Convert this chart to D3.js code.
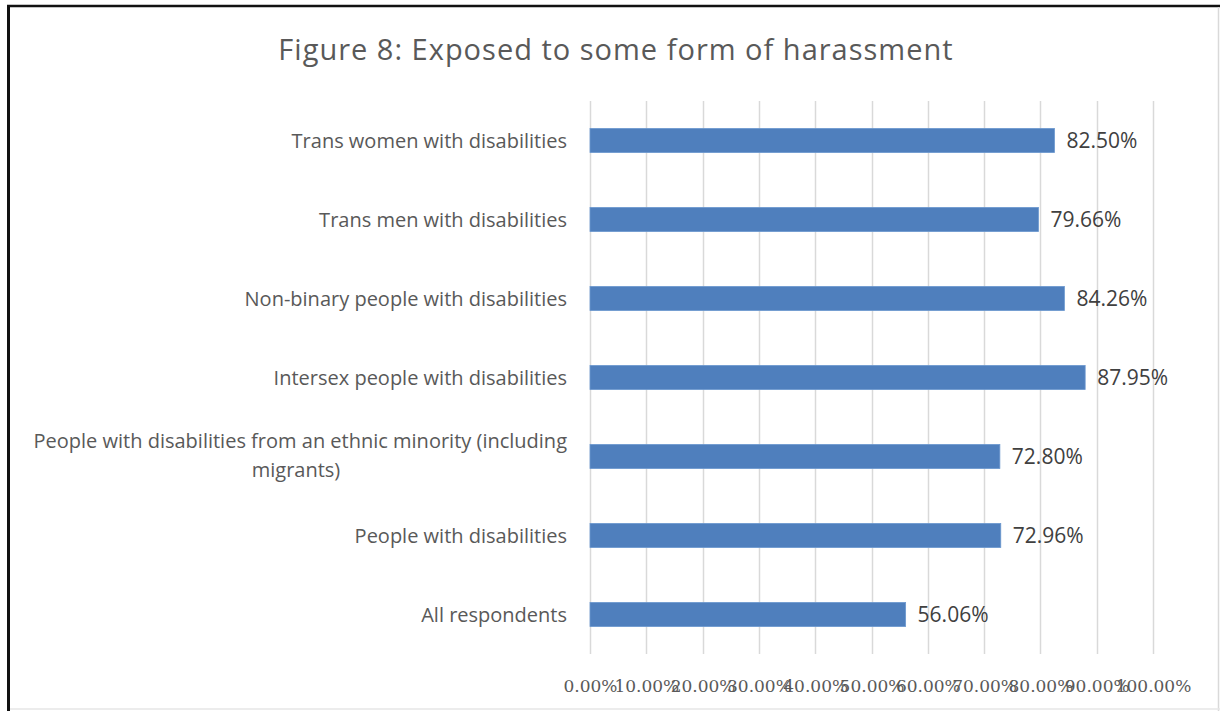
<!DOCTYPE html>
<html>
<head>
<meta charset="utf-8">
<script src="https://cdn.jsdelivr.net/npm/d3@7"></script>
<style>
  html, body { margin: 0; padding: 0; background: #ffffff; }
  svg { display: block; }
  text { font-family: "Open Sans", Lato, sans-serif; }
</style>
</head>
<body>
<svg id="chart" width="1220" height="711"></svg>
<script>
// Share of respondents exposed to some form of harassment, by group
const categories = [
  "Trans women with disabilities",
  "Trans men with disabilities",
  "Non-binary people with disabilities",
  "Intersex people with disabilities",
  "People with disabilities from an ethnic minority (including migrants)",
  "People with disabilities",
  "All respondents"
];
const values = [82.50, 79.66, 84.26, 87.95, 72.80, 72.96, 56.06];
const tickValues = [0, 10, 20, 30, 40, 50, 60, 70, 80, 90, 100];
const title = "Figure 8: Exposed to some form of harassment";

const W = 1220, H = 711;
const plot = { left: 590, right: 1153, top: 101, bottom: 654 };
const grey = "#595959";

const svg = d3.select("#chart");

// frame
svg.append("rect").attr("x", 0).attr("y", 0).attr("width", W).attr("height", H).attr("fill", "#fff");
svg.append("line").attr("x1", 8.5).attr("x2", 8.5).attr("y1", 5).attr("y2", H).attr("stroke", "#111").attr("stroke-width", 3);
svg.append("line").attr("x1", 7).attr("x2", W).attr("y1", 6).attr("y2", 6).attr("stroke", "#111").attr("stroke-width", 2.5);
svg.append("line").attr("x1", W - 1.5).attr("x2", W - 1.5).attr("y1", 7).attr("y2", H).attr("stroke", "#d9d9d9").attr("stroke-width", 1.5);
svg.append("line").attr("x1", 10).attr("x2", W).attr("y1", H - 2).attr("y2", H - 2).attr("stroke", "#e6e6e6").attr("stroke-width", 1.5);

const x = d3.scaleLinear().domain([0, 100]).range([plot.left, plot.right]);
const y = d3.scaleBand().domain(categories).range([plot.top, plot.bottom]).paddingInner(0.695).paddingOuter(0.3475);

// title
svg.append("text")
  .attr("x", 616).attr("y", 60)
  .attr("text-anchor", "middle")
  .attr("fill", grey)
  .attr("font-size", 29)
  .attr("letter-spacing", 1)
  .text(title);

// vertical gridlines
svg.append("g")
  .selectAll("line")
  .data(tickValues)
  .join("line")
  .attr("x1", d => Math.round(x(d)) + 0.5)
  .attr("x2", d => Math.round(x(d)) + 0.5)
  .attr("y1", plot.top)
  .attr("y2", plot.bottom)
  .attr("stroke", "#d9d9d9")
  .attr("stroke-width", 1.5);

// x axis labels
const xAxis = d3.axisBottom(x)
  .tickValues(tickValues)
  .tickSize(0)
  .tickFormat(d => d.toFixed(2) + "%");
const gx = svg.append("g").attr("transform", `translate(0,${plot.bottom + 23})`).call(xAxis);
gx.select(".domain").remove();
gx.selectAll("text")
  .attr("fill", grey)
  .style("font-size", "17px")
  .style("font-family", "'DejaVu Serif', serif");

// bars
svg.append("g")
  .selectAll("rect")
  .data(categories)
  .join("rect")
  .attr("x", x(0))
  .attr("y", d => y(d))
  .attr("width", (d, i) => x(values[i]) - x(0))
  .attr("height", y.bandwidth())
  .attr("fill", "#4f7fbd")
  .attr("stroke", "#6c98cf")
  .attr("stroke-width", 0.8);

// value labels
svg.append("g")
  .selectAll("text")
  .data(categories)
  .join("text")
  .attr("x", (d, i) => x(values[i]) + 12)
  .attr("y", d => y(d) + y.bandwidth() / 2)
  .attr("dy", "0.35em")
  .attr("fill", "#404040")
  .attr("font-size", 21)
  .text((d, i) => values[i].toFixed(2) + "%");

// category labels, wrapped to two lines where needed
const catG = svg.append("g");
categories.forEach(c => {
  const cy = y(c) + y.bandwidth() / 2;
  const lines = c.length > 40
    ? [c.slice(0, c.lastIndexOf(" (") + 11), c.slice(c.lastIndexOf(" (") + 12)]
    : [c];
  const t = catG.append("text")
    .attr("fill", grey)
    .attr("font-size", 20);
  if (lines.length === 1) {
    t.append("tspan").attr("x", 567).attr("y", cy).attr("dy", "0.35em").attr("text-anchor", "end").text(lines[0]);
  } else {
    t.append("tspan").attr("x", 567).attr("y", cy - 16).attr("dy", "0.35em").attr("text-anchor", "end").text(lines[0]);
    t.append("tspan").attr("x", 296).attr("y", cy + 13).attr("dy", "0.35em").attr("text-anchor", "middle").text(lines[1]);
  }
});
</script>
</body>
</html>
